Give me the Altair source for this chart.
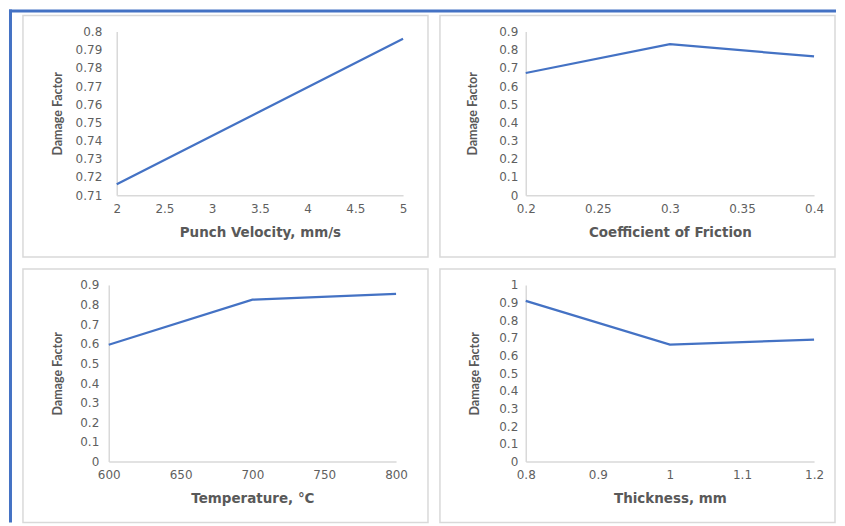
import altair as alt
import pandas as pd

# ---- data ----
velocity = [2, 3.5, 5]
damage_velocity = [0.716, 0.756, 0.796]

friction = [0.2, 0.3, 0.4]
damage_friction = [0.672, 0.831, 0.763]

temperature = [600, 700, 800]
damage_temperature = [0.595, 0.825, 0.854]

thickness = [0.8, 1.0, 1.2]
damage_thickness = [0.91, 0.662, 0.69]

velocity_ticks = [2, 2.5, 3, 3.5, 4, 4.5, 5]
friction_ticks = [0.2, 0.25, 0.3, 0.35, 0.4]
temperature_ticks = [600, 650, 700, 750, 800]
thickness_ticks = [0.8, 0.9, 1.0, 1.1, 1.2]

y_ticks_velocity = [0.71, 0.72, 0.73, 0.74, 0.75, 0.76, 0.77, 0.78, 0.79, 0.8]
y_ticks_09 = [0, 0.1, 0.2, 0.3, 0.4, 0.5, 0.6, 0.7, 0.8, 0.9]
y_ticks_10 = [0, 0.1, 0.2, 0.3, 0.4, 0.5, 0.6, 0.7, 0.8, 0.9, 1.0]

x_titles = ["Punch Velocity, mm/s", "Coefficient of Friction", "Temperature, \u00b0C", "Thickness, mm"]
y_title = "Damage Factor"

LINE = "#4472C4"
FRAME = "#4472C4"
BORDER = "#D9D9D9"
LABEL = "#5f5f5f"
TITLE = "#595959"

one = alt.Data(values=[{"k": 0}])


def box(x1, x2, y1, y2, **kw):
    return alt.Chart(one).mark_rect(**kw).encode(
        x=alt.value(x1), x2=alt.value(x2), y=alt.value(y1), y2=alt.value(y2)
    )


def panel(xs, ys, xtitle, xdom, xticks, xfmt, ydom, yticks, w, h,
          border, blues, ylabpad, ytitlex, xrange=None, yoffset=0):
    df = pd.DataFrame({"x": xs, "y": ys})
    xscale = dict(domain=xdom, nice=False, zero=False)
    if xrange is not None:
        xscale["range"] = xrange
    yaxis = dict(values=yticks, format=".2~f", title=y_title,
                 labelFlush=False, labelOverlap=False,
                 labelPadding=ylabpad, titleX=ytitlex,
                 titleY=h / 2, titleAngle=270,
                 titleAlign="center", titleBaseline="middle",
                 titleFont="Lato", titleFontSize=12.5,
                 titleFontWeight="bold", titleColor=TITLE)
    if yoffset:
        yaxis["offset"] = yoffset
    line = alt.Chart(df).mark_line(color=LINE, strokeWidth=2.25).encode(
        x=alt.X("x:Q",
                scale=alt.Scale(**xscale),
                axis=alt.Axis(values=xticks, format=xfmt, title=xtitle,
                              labelFlush=False, labelOverlap=False,
                              labelPadding=8, titleY=37, titleBaseline="middle",
                              titleFont="DejaVu Sans", titleFontSize=13.5,
                              titleFontWeight="bold", titleColor=TITLE)),
        y=alt.Y("y:Q",
                scale=alt.Scale(domain=ydom, nice=False, zero=False),
                axis=alt.Axis(**yaxis)),
    )
    layers = [box(*border, fillOpacity=0, stroke=BORDER, strokeWidth=1.5)]
    for b in blues:
        layers.append(box(*b, color=FRAME, strokeWidth=0))
    layers.append(line)
    return alt.layer(*layers).properties(width=w, height=h)


# panel 1 : plot origin (116, 30) page px, size 287 x 164
p1 = panel(velocity, damage_velocity, x_titles[0], [2, 5], velocity_ticks, "~g",
           [0.71, 0.8], y_ticks_velocity, 287, 164,
           border=(-94, 312, -16, 226),
           blues=[(-108, 721, -22, -19), (-108, -105, -22, 492)],
           ylabpad=15, ytitlex=-59)
# panel 2 : plot origin (526, 30), size 289 x 164
p2 = panel(friction, damage_friction, x_titles[1], [0.2, 0.4], friction_ticks, "~g",
           [0, 0.9], y_ticks_09, 289, 164,
           border=(-86, 310, -16, 226), blues=[],
           ylabpad=8, ytitlex=-53)
# panel 3 : grid origin (116, 284), plot drawn from 108 to 396, height 177
p3 = panel(temperature, damage_temperature, x_titles[2], [600, 800], temperature_ticks, "d",
           [0, 0.9], y_ticks_09, 288, 177,
           border=(-94, 312, -16, 238), blues=[],
           ylabpad=10, ytitlex=-51, xrange=[-8, 280], yoffset=8)
# panel 4 : plot origin (526, 284), size 289 x 177
p4 = panel(thickness, damage_thickness, x_titles[3], [0.8, 1.2], thickness_ticks, "~g",
           [0, 1], y_ticks_10, 289, 177,
           border=(-86, 310, -16, 238), blues=[],
           ylabpad=8, ytitlex=-51)

chart = alt.concat(
    p1, p2, p3, p4, columns=2, bounds="flush",
    spacing={"row": 90, "column": 122},
).properties(
    padding=0, background="white"
).configure_view(
    stroke="transparent"
).configure_axis(
    domainColor=BORDER, domainWidth=1.5, ticks=False, tickSize=0, grid=False,
    labelFont="DejaVu Sans", labelFontSize=12, labelColor=LABEL, zindex=1,
)

chart.save("out.html", embed_options={"renderer": "svg", "actions": False})
